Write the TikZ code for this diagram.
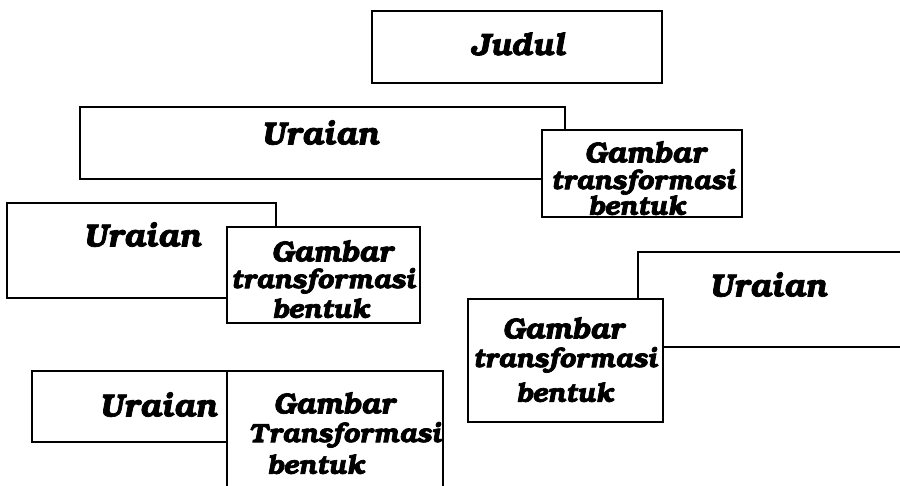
\documentclass[tikz,border=0pt]{standalone}
\usepackage[T1]{fontenc}
\usepackage{bookman}
\newcommand{\heavy}[1]{\special{pdf:literal direct 2 Tr 0.7 w}#1\special{pdf:literal direct 0 Tr}}
\begin{document}
\begin{tikzpicture}[x=1pt,y=-1pt,
  box/.style={draw=black,line width=1.6pt,fill=white},
  txt/.style={inner sep=0pt},
  ttl/.style={txt,font=\fontsize{31}{34}\selectfont\bfseries\itshape},
  ura/.style={txt,font=\fontsize{32}{35}\selectfont\bfseries\itshape},
  gam/.style={txt,font=\fontsize{29}{32}\selectfont\bfseries\itshape},
  trf/.style={txt,font=\fontsize{26.5}{30}\selectfont\bfseries\itshape},
  ben/.style={txt,font=\fontsize{26.5}{30}\selectfont\bfseries\itshape}]
\useasboundingbox (0,0) rectangle (900,486);
% Judul
\draw[box] (372,11) rectangle (662,83);
\node[ttl] (judul) at (518,44) {\heavy{Judul}};
% top Uraian + Gambar
\draw[box] (80,107) rectangle (565,179);
\node[ura] (u1) at (320,133) {\heavy{Uraian}};
\draw[box] (542,130) rectangle (742,217);
\node[gam] (g1a) at (645,152) {\heavy{Gambar}};
\node[trf] (g1b) at (643,182) {\heavy{transformasi}};
\node[ben] (g1c) at (637,205) {\heavy{bentuk}};
% left Uraian + Gambar
\draw[box] (7,203) rectangle (276,298);
\node[ura] (u2) at (142,235) {\heavy{Uraian}};
\draw[box] (227,227) rectangle (420,323);
\node[gam] (g2a) at (332,251) {\heavy{Gambar}};
\node[trf] (g2b) at (323,281) {\heavy{transformasi}};
\node[ben] (g2c) at (321,308) {\heavy{bentuk}};
% right Uraian + Gambar
\draw[box] (900,252) -- (638,252) -- (638,347) -- (900,347);
\node[ura] (u3) at (768,285) {\heavy{Uraian}};
\draw[box] (468,299) rectangle (663,422);
\node[gam] (g3a) at (563,328) {\heavy{Gambar}};
\node[trf] (g3b) at (565,360) {\heavy{transformasi}};
\node[ben] (g3c) at (565,392) {\heavy{bentuk}};
% bottom Uraian + Gambar
\draw[box] (32,371) rectangle (227,442);
\node[ura] (u4) at (158,405) {\heavy{Uraian}};
\draw[box] (227,488) -- (227,371) -- (443,371) -- (443,488);
\node[gam] (g4a) at (334,403) {\heavy{Gambar}};
\node[trf] (g4b) at (345,435) {\heavy{Transformasi}};
\node[ben] (g4c) at (316,464) {\heavy{bentuk}};
\end{tikzpicture}
\end{document}
